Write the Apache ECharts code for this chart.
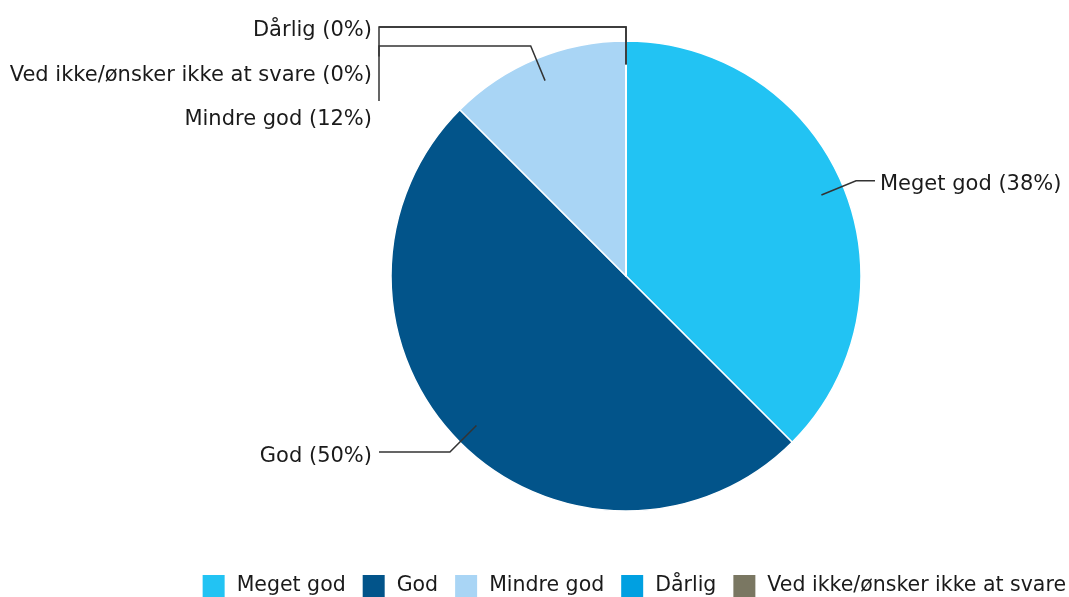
<!DOCTYPE html>
<html>
<head>
<meta charset="utf-8">
<script src="https://cdn.jsdelivr.net/npm/echarts@6/dist/echarts.min.js"></script>
<style>
	html, body { margin: 0; padding: 0; background: #fff; }
	#chart { width: 1069px; height: 597px; }
</style>
</head>
<body>
<div id="chart"></div>
<script>
// answers and counts (3/8, 4/8, 1/8)
var categories = ['Meget god', 'God', 'Mindre god', 'Dårlig', 'Ved ikke/ønsker ikke at svare'];
var counts = [3, 4, 1, 0, 0];
var shownPercents = ['38%', '50%', '12%', '0%', '0%'];
var colors = ['#22c3f3', '#02548a', '#a9d5f5', '#00a0e1', '#7a7762'];

var chart = echarts.init(document.getElementById('chart'));

// pie layout
var cx = 626, cy = 276, R = 235;
var leftCol = 372, rightCol = 880;

// work out leader lines the way the original tool does:
// from inside the slice out to an elbow, then across to the label column
function buildLabelGeo() {
	var total = 0;
	counts.forEach(function (v) { total += v; });
	var geo = [];
	var cum = 0;
	for (var i = 0; i < counts.length; i++) {
		var a = (cum + counts[i] / 2) / total * Math.PI * 2;
		cum += counts[i];
		var s = Math.sin(a), c = Math.cos(a);
		geo.push({
			idx: i,
			left: s < 0 || Math.abs(s) < 1e-9,
			inner: [cx + R * 0.9 * s, cy - R * 0.9 * c],
			elbow: [cx + (R + 14) * s, cy - (R + 14) * c]
		});
	}
	var lefts = geo.filter(function (g) { return g.left; });
	lefts.sort(function (p, q) {
		return (p.elbow[1] - q.elbow[1]) || (p.idx - q.idx);
	});
	var prev = -Infinity;
	lefts.forEach(function (g) {
		g.y = Math.max(g.elbow[1] + 4, prev + 44.5);
		prev = g.y;
		var lineX = leftCol + 7;
		g.points = [g.inner, g.elbow, [lineX, g.elbow[1]]];
		if (g.y - g.elbow[1] > 8) g.points.push([lineX, g.y - 19]);
		g.x = leftCol;
		g.align = 'right';
	});
	geo.forEach(function (g) {
		if (g.left) return;
		g.y = g.elbow[1] + 4;
		g.points = [g.inner, g.elbow, [rightCol - 5, g.elbow[1]]];
		g.x = rightCol;
		g.align = 'left';
	});
	return geo;
}
var labelGeo = buildLabelGeo();

var seriesData = [];
for (var i = 0; i < categories.length; i++) {
	seriesData.push({
		name: categories[i],
		value: counts[i],
		itemStyle: { color: colors[i] }
	});
}

var option = {
	animation: false,
	color: colors,
	textStyle: {
		fontFamily: 'DejaVu Sans'
	},
	legend: {
		data: categories,
		top: 568,
		right: -2,
		itemWidth: 24,
		itemHeight: 24,
		itemGap: 15,
		icon: 'rect',
		textStyle: {
			fontSize: 20.5,
			color: '#1a1a1a',
			fontFamily: 'DejaVu Sans',
			padding: [0, 0, 0, 6]
		}
	},
	series: [{
		// the coloured slices
		type: 'pie',
		center: [cx, cy],
		radius: R,
		startAngle: 90,
		clockwise: true,
		itemStyle: {
			borderColor: '#fff',
			borderWidth: 1.5
		},
		label: { show: false },
		labelLine: { show: false },
		data: seriesData
	}, {
		// same pie, see-through, only to put labels and leader lines on top
		type: 'pie',
		z: 5,
		silent: true,
		center: [cx, cy],
		radius: R,
		startAngle: 90,
		clockwise: true,
		avoidLabelOverlap: false,
		itemStyle: {
			color: 'rgba(0,0,0,0)',
			borderWidth: 0
		},
		emphasis: { disabled: true },
		label: {
			show: true,
			position: 'outside',
			fontSize: 21,
			width: 420,
			color: '#1a1a1a',
			fontFamily: 'DejaVu Sans',
			formatter: function (p) {
				return p.name + ' (' + shownPercents[p.dataIndex] + ')';
			}
		},
		labelLine: {
			show: true,
			showAbove: true,
			length: 14,
			length2: 20,
			lineStyle: {
				color: '#333',
				width: 1.5
			}
		},
		labelLayout: function (params) {
			var g = labelGeo[params.dataIndex];
			return {
				x: g.x,
				y: g.y,
				align: g.align,
				verticalAlign: 'middle',
				labelLinePoints: g.points
			};
		},
		data: categories.map(function (name, k) {
			return { name: name, value: counts[k] };
		})
	}]
};

chart.setOption(option);
</script>
</body>
</html>
